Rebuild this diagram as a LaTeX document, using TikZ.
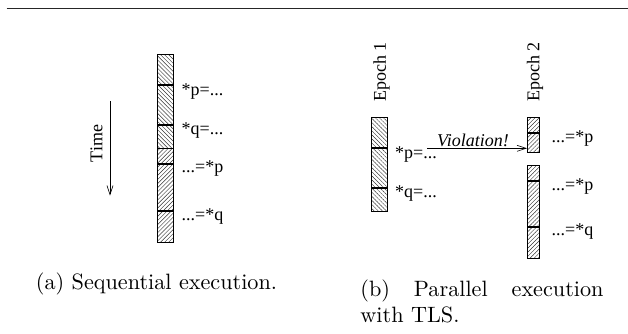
\documentclass[tikz,border=0pt]{standalone}
\usepackage{fontspec}
\newfontfamily\timesf{Liberation Serif}
\usetikzlibrary{patterns.meta,arrows.meta}
\begin{document}
\begin{tikzpicture}[x=1pt,y=-1pt,
  barbox/.style={draw=black, line width=0.6pt, inner sep=0pt, outer sep=0pt, anchor=north west},
  hatchnw/.style={pattern={Lines[angle=-45,distance=2.9pt,line width=0.45pt]}, pattern color=black!80},
  hatchne/.style={pattern={Lines[angle=45,distance=2.9pt,line width=0.45pt]}, pattern color=black!80},
  divider/.style={line width=1.8pt, black},
  lbl/.style={font=\timesf\fontsize{18}{20}\selectfont, inner sep=0pt},
  arr/.style={line width=0.6pt, -{Straight Barb[length=9pt,width=6pt]}},
  capt/.style={font=\fontsize{10}{12}\selectfont, inner sep=0pt, scale=2.22},
  rulestyle/.style={line width=1.3pt, black!85}
]
\useasboundingbox (0,0) rectangle (628,333);
% top rule
\coordinate (r1) at (6.7,8.5);
\coordinate (r2) at (628,8.5);
\draw[rulestyle] (r1) -- (r2);

% ---------- (a) sequential ----------
\node[barbox, hatchnw, minimum width=16pt, minimum height=94.3pt] (sa) at (157.3,54) {};
\node[barbox, hatchne, minimum width=16pt, minimum height=93.7pt] (sb) at (157.3,148.3) {};
\draw[divider] (157.3,85) -- (173.3,85);
\draw[divider] (157.3,124.7) -- (173.3,124.7);
\draw[divider] (157.3,163.7) -- (173.3,163.7);
\draw[divider] (157.3,211.3) -- (173.3,211.3);
\node[lbl, anchor=west] (la1) at (181.5,92) {*p=...};
\node[lbl, anchor=west] (la2) at (181.5,130.5) {*q=...};
\node[lbl, anchor=west] (la3) at (181.5,168.5) {...=*p};
\node[lbl, anchor=west] (la4) at (181.5,217) {...=*q};
\node[lbl, rotate=90] (time) at (96.5,143.5) {Time};
\coordinate (ta) at (110,101);
\coordinate (tb) at (110,195.5);
\draw[arr] (ta) -- (tb);

% ---------- (b) parallel ----------
\node[barbox, hatchnw, minimum width=15.6pt, minimum height=94.4pt] (e1) at (371.7,117.3) {};
\draw[divider] (371.7,148.3) -- (387.3,148.3);
\draw[divider] (371.7,188.3) -- (387.3,188.3);
\node[lbl, anchor=west] (lb1) at (395,155) {*p=...};
\node[lbl, anchor=west] (lb2) at (395,193.5) {*q=...};
\node[lbl, rotate=90] (ep1) at (381.5,72) {Epoch 1};

\node[barbox, hatchne, minimum width=12pt, minimum height=35.4pt] (e2a) at (527,117.3) {};
\draw[divider] (527,133.3) -- (539,133.3);
\node[barbox, hatchne, minimum width=12pt, minimum height=93.3pt] (e2b) at (527,165) {};
\draw[divider] (527,180.7) -- (539,180.7);
\draw[divider] (527,227.3) -- (539,227.3);
\node[lbl, anchor=west] (lc1) at (551.5,138.5) {...=*p};
\node[lbl, anchor=west] (lc2) at (551.5,187) {...=*p};
\node[lbl, anchor=west] (lc3) at (551.5,232) {...=*q};
\node[lbl, rotate=90] (ep2) at (535,72) {Epoch 2};

\coordinate (vs) at (427,148.3);
\draw[arr] (vs) -- (vs -| e2a.west);
\node[lbl, anchor=base, font=\timesf\itshape\fontsize{18}{20}\selectfont] (viol) at (473,146.5) {Violation!};

% captions
\node[capt, anchor=base] (capa) at (156.5,289.5) {(a) Sequential execution.};
\node[capt, anchor=base west] (capb) at (360,296) {\parbox[t]{109.5pt}{\fontsize{10}{11.8}\selectfont (b) Parallel execution with TLS.}};
\end{tikzpicture}
\end{document}
